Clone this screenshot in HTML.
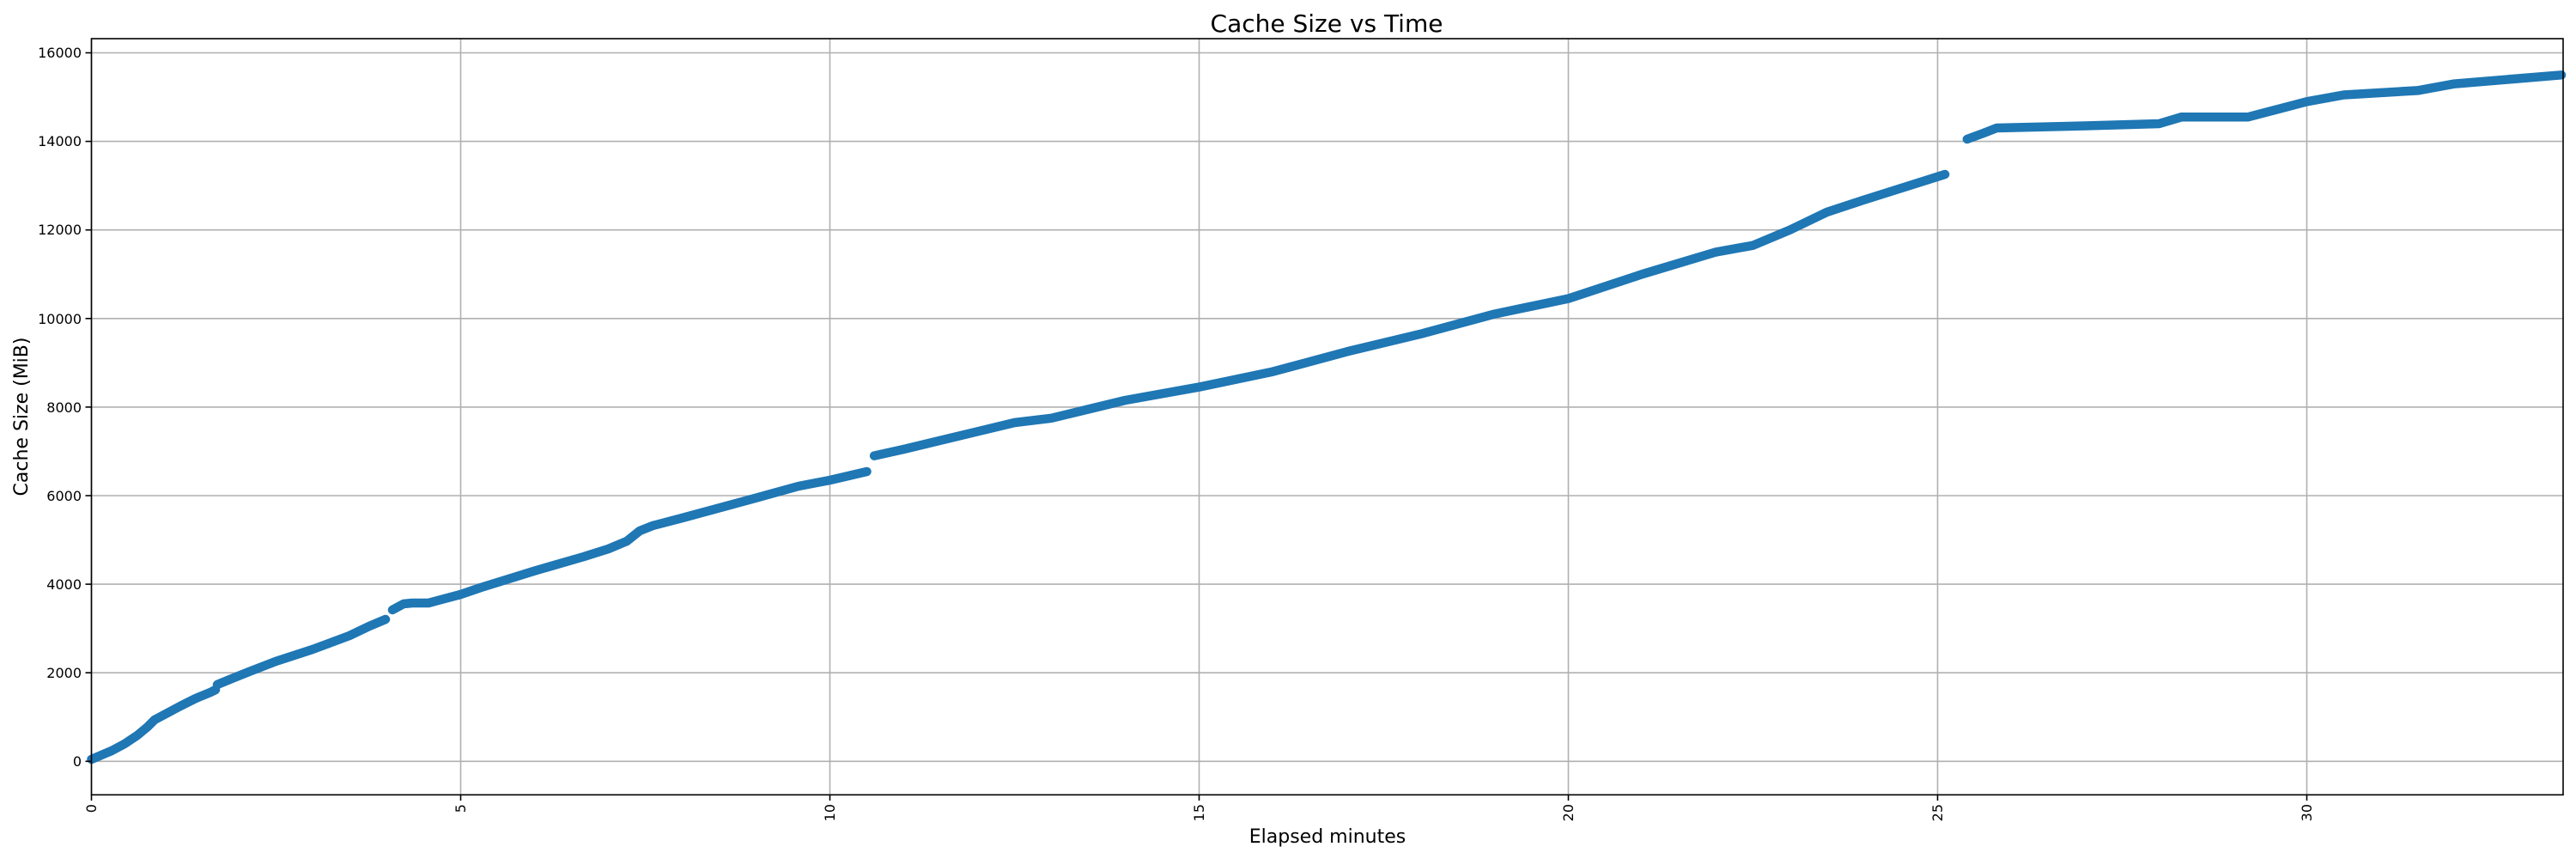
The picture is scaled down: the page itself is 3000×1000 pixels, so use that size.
<!DOCTYPE html>
<html><head><meta charset="utf-8"><style>html,body{margin:0;padding:0;background:#fff}svg{display:block}</style></head>
<body>
<svg width="3000" height="1000" xmlns="http://www.w3.org/2000/svg" font-family="DejaVu Sans, Liberation Sans, sans-serif">
<rect width="3000" height="1000" fill="#fff"/>
<g stroke="#b0b0b0" stroke-width="1.6">
<line x1="106.5" y1="45" x2="106.5" y2="925"/>
<line x1="536.5" y1="45" x2="536.5" y2="925"/>
<line x1="966.5" y1="45" x2="966.5" y2="925"/>
<line x1="1396.5" y1="45" x2="1396.5" y2="925"/>
<line x1="1826.5" y1="45" x2="1826.5" y2="925"/>
<line x1="2256.5" y1="45" x2="2256.5" y2="925"/>
<line x1="2686.5" y1="45" x2="2686.5" y2="925"/>
<line x1="106" y1="886.3" x2="2985" y2="886.3"/>
<line x1="106" y1="783.2" x2="2985" y2="783.2"/>
<line x1="106" y1="680.1" x2="2985" y2="680.1"/>
<line x1="106" y1="577" x2="2985" y2="577"/>
<line x1="106" y1="473.9" x2="2985" y2="473.9"/>
<line x1="106" y1="370.8" x2="2985" y2="370.8"/>
<line x1="106" y1="267.7" x2="2985" y2="267.7"/>
<line x1="106" y1="164.6" x2="2985" y2="164.6"/>
<line x1="106" y1="61.5" x2="2985" y2="61.5"/>
</g>
<g fill="none" stroke="#1f77b4" stroke-width="10.5" stroke-linecap="round" stroke-linejoin="round">
<polyline points="106.5,884 130,874 145,866 160,856 172,846 180,838 195,830 210,822 228,813 245,806 251,803"/>
<polyline points="253,797 270,790 290,782 321,770 364,756 407,740 430,729 449,721"/>
<polyline points="457,710 470,703 480,702 499,702 536.5,692 560,684 622.5,664.6 680,648 708.5,639 730,630 745,618 760.1,612 794.5,603 880.5,579.7 930,566 966.5,559 1009.5,549"/>
<polyline points="1018.1,530.6 1052.5,523 1138.5,502.3 1181.5,492 1224.5,486.8 1310.5,466 1396.5,450.6 1482.5,432.6 1568.5,409.4 1654.5,388.8 1740.5,365.6 1826.5,347.6 1912.5,319.2 1998.5,293.4 2041.5,285.7 2084.5,267.7 2127.5,247 2170.5,232.8 2265.1,203"/>
<polyline points="2290.9,162 2310,155 2325.3,149 2428.5,146.5 2514.5,144 2540.3,136.3 2617.7,136.3 2686.5,118.3 2729.5,110.5 2815.5,105.4 2858.5,97.6 2983,87.3"/>
</g>
<rect x="106.5" y="45" width="2878.5" height="880.3" fill="none" stroke="#000" stroke-width="1.6"/>
<g stroke="#000" stroke-width="1.6">
<line x1="106.5" y1="925.3" x2="106.5" y2="932"/><line x1="536.5" y1="925.3" x2="536.5" y2="932"/><line x1="966.5" y1="925.3" x2="966.5" y2="932"/><line x1="1396.5" y1="925.3" x2="1396.5" y2="932"/><line x1="1826.5" y1="925.3" x2="1826.5" y2="932"/><line x1="2256.5" y1="925.3" x2="2256.5" y2="932"/><line x1="2686.5" y1="925.3" x2="2686.5" y2="932"/>
<line x1="99.5" y1="886.3" x2="106.5" y2="886.3"/><line x1="99.5" y1="783.2" x2="106.5" y2="783.2"/><line x1="99.5" y1="680.1" x2="106.5" y2="680.1"/><line x1="99.5" y1="577" x2="106.5" y2="577"/><line x1="99.5" y1="473.9" x2="106.5" y2="473.9"/><line x1="99.5" y1="370.8" x2="106.5" y2="370.8"/><line x1="99.5" y1="267.7" x2="106.5" y2="267.7"/><line x1="99.5" y1="164.6" x2="106.5" y2="164.6"/><line x1="99.5" y1="61.5" x2="106.5" y2="61.5"/>
</g>
<g font-size="16" text-anchor="end" fill="#000">
<text x="95" y="892">0</text><text x="95" y="789">2000</text><text x="95" y="686">4000</text><text x="95" y="583">6000</text><text x="95" y="480">8000</text><text x="95" y="377">10000</text><text x="95" y="273">12000</text><text x="95" y="170">14000</text><text x="95" y="67">16000</text>
</g>
<g font-size="16" text-anchor="end" fill="#000">
<text transform="translate(112,936) rotate(-90)">0</text>
<text transform="translate(542,936) rotate(-90)">5</text>
<text transform="translate(972,936) rotate(-90)">10</text>
<text transform="translate(1402,936) rotate(-90)">15</text>
<text transform="translate(1832,936) rotate(-90)">20</text>
<text transform="translate(2262,936) rotate(-90)">25</text>
<text transform="translate(2692,936) rotate(-90)">30</text>
</g>
<text x="1546" y="981" font-size="22" text-anchor="middle">Elapsed minutes</text>
<text transform="translate(32,485) rotate(-90)" font-size="22" text-anchor="middle">Cache Size (MiB)</text>
<text x="1545" y="37" font-size="28" text-anchor="middle">Cache Size vs Time</text>
</svg>
</body></html>
